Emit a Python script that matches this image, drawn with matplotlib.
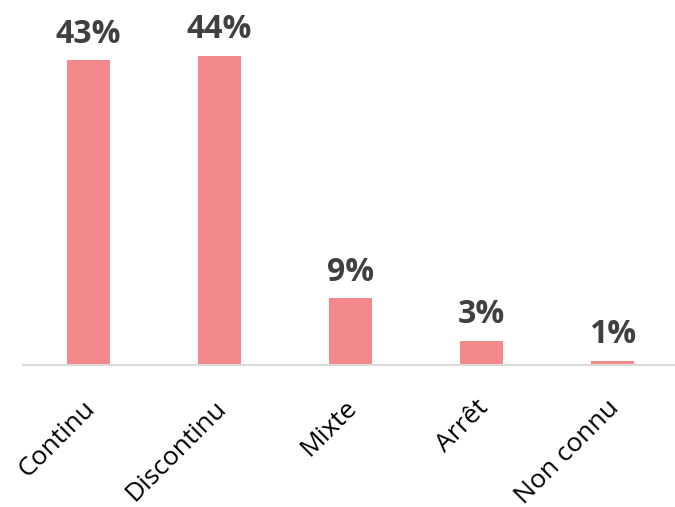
import matplotlib
matplotlib.use("Agg")
import matplotlib.pyplot as plt
from matplotlib.transforms import ScaledTranslation

categories = ["Continu", "Discontinu", "Mixte", "Arrêt", "Non connu"]
values = [43.4, 44.0, 9.5, 3.4, 0.6]
labels = ["43%", "44%", "9%", "3%", "1%"]

W, H = 675, 507
fig = plt.figure(figsize=(W / 100, H / 100), dpi=100)
left, right, bottom, top = 23, 678, 365, 10
ax = fig.add_axes([left / W, 1 - bottom / H, (right - left) / W, (bottom - top) / H])

x = list(range(len(categories)))
ax.bar(x, values, width=0.33, color="#F4898C")
ax.set_xlim(-0.5, 4.5)
ax.set_ylim(0, (bottom - top) / 7.02)

for xi, v, lab in zip(x, values, labels):
    ax.annotate(lab, (xi, v), xytext=(0, 7), textcoords="offset points",
                ha="center", va="bottom", fontsize=23, fontweight="bold",
                color="#404040", family="Open Sans")

for s in ["top", "left", "right"]:
    ax.spines[s].set_visible(False)
ax.spines["bottom"].set_color("#D9D9D9")
ax.spines["bottom"].set_linewidth(1.5)
ax.set_yticks([])
ax.set_xticks(x)
ax.set_xticklabels(categories, rotation=45, ha="right", va="top",
                   rotation_mode="anchor", fontsize=19, family="Open Sans")
ax.tick_params(axis="x", length=0, pad=22)
offset = ScaledTranslation(-6 / 100, 0, fig.dpi_scale_trans)
for t in ax.get_xticklabels():
    t.set_transform(t.get_transform() + offset)

fig.savefig("out.png", dpi=100)
